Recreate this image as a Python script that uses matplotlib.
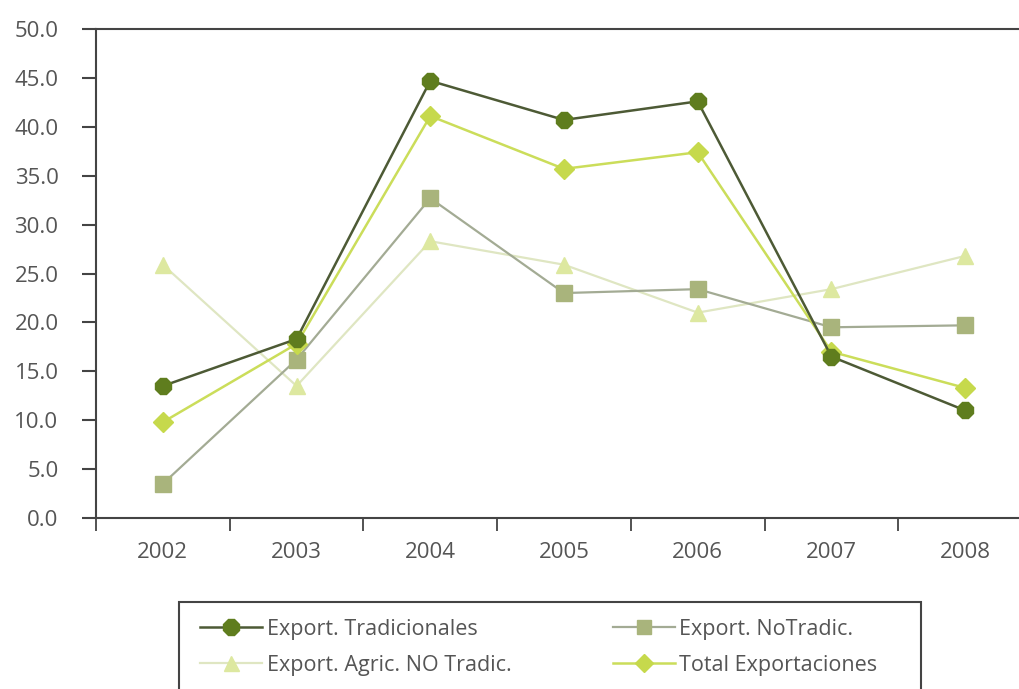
import matplotlib
matplotlib.use("Agg")
import matplotlib.pyplot as plt
from matplotlib.patches import Rectangle

years = ['2002', '2003', '2004', '2005', '2006', '2007', '2008']
tradicionales = [13.5, 18.3, 44.7, 40.7, 42.6, 16.5, 11.0]
no_tradic = [3.5, 16.2, 32.7, 23.0, 23.4, 19.5, 19.7]
agric_no_tradic = [25.9, 13.5, 28.3, 25.9, 21.0, 23.4, 26.8]
total_export = [9.8, 17.8, 41.1, 35.7, 37.4, 17.0, 13.3]

plt.rcParams['font.family'] = ['Open Sans', 'DejaVu Sans']
txt = '#555555'
spine = '#444444'

W, H = 1019, 689
fig = plt.figure(figsize=(W / 100, H / 100), dpi=100)
# the plot runs past the right edge of the picture, as in the reference
ax = fig.add_axes([96 / W, 1 - 518 / H, (1032 - 96) / W, (518 - 29) / H])

x = list(range(len(years)))
ax.plot(x, agric_no_tradic, color='#dfe6c2', lw=1.6, marker='^', ms=12,
        mfc='#dde8a0', mec='#dde8a0', label='Export. Agric. NO Tradic.', zorder=2)
ax.plot(x, no_tradic, color='#a3ab94', lw=1.6, marker='s', ms=11.5,
        mfc='#a9b47c', mec='#a9b47c', label='Export. NoTradic.', zorder=3)
ax.plot(x, total_export, color='#cbdd5a', lw=1.8, marker='D', ms=10,
        mfc='#c6d94c', mec='#c6d94c', label='Total Exportaciones', zorder=4)
ax.plot(x, tradicionales, color='#4d5a35', lw=1.8, marker='8', ms=13,
        mfc='#5f7d1e', mec='#5f7d1e', label='Export. Tradicionales', zorder=5)

ax.set_xlim(-0.5, 6.5)
ax.set_ylim(0, 50)
ax.set_yticks([i * 5 for i in range(11)])
ax.set_yticklabels(['%.1f' % (i * 5) for i in range(11)])
ax.set_xticks(x)
ax.set_xticklabels(years)
ax.set_xticks([i - 0.5 for i in range(8)], minor=True)

ax.tick_params(axis='y', direction='out', length=10, width=1.5, color=spine,
               pad=17, labelsize=16, labelcolor=txt)
ax.tick_params(axis='x', which='major', length=0, pad=17, labelsize=16, labelcolor=txt)
ax.tick_params(axis='x', which='minor', direction='out', length=9, width=1.3, color=spine)

for s in ['left', 'top', 'bottom', 'right']:
    ax.spines[s].set_color(spine)
    ax.spines[s].set_linewidth(1.5)

h, l = ax.get_legend_handles_labels()
order = [3, 0, 1, 2]
leg = fig.legend([h[i] for i in order], [l[i] for i in order], ncol=2,
                 loc='upper left', bbox_to_anchor=(200 / W, 1 - 619 / H),
                 frameon=False, fontsize=15.5, handlelength=2.9, handletextpad=0.2,
                 columnspacing=4.7, labelspacing=0.68, borderpad=0, borderaxespad=0,
                 markerscale=0.9)
for t in leg.get_texts():
    t.set_color(txt)

fig.patches.append(Rectangle((179 / W, -0.05), (921 - 179) / W, 0.05 + (689 - 602) / H,
                             transform=fig.transFigure, fill=False,
                             edgecolor=spine, lw=1.5))

fig.savefig('out.png', dpi=100)
